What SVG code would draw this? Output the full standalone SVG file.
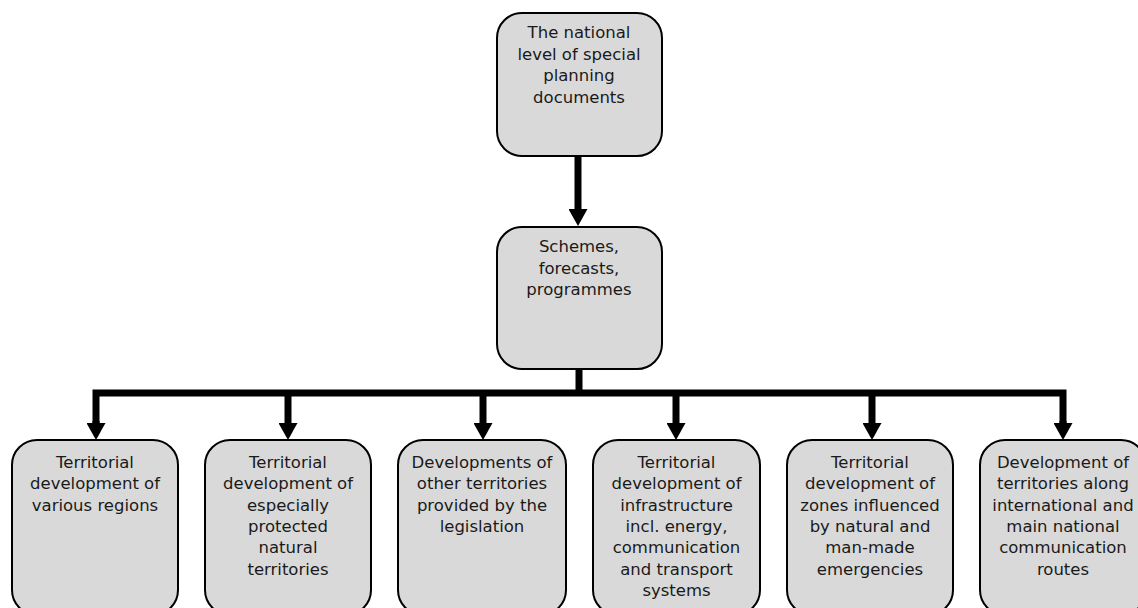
<svg xmlns="http://www.w3.org/2000/svg" width="1138" height="608" viewBox="0 0 1138 608">
<style>
.box{fill:#d9d9d9;stroke:#000;stroke-width:2}
.t{font-family:"DejaVu Sans",Verdana,sans-serif;font-size:16.5px;fill:#1a1a1a;text-anchor:middle}
.c{fill:none;stroke:#000;stroke-width:7;stroke-linejoin:miter}
</style>
<defs>
<marker id="ah" markerUnits="userSpaceOnUse" viewBox="0 0 17 19" refX="0" refY="9.5" markerWidth="17" markerHeight="19" orient="auto">
<path d="M0 0 L17 9.5 L0 19 z" fill="#000"/>
</marker>
</defs>
<g id="connectors">
<path class="c" d="M578 156 V209" marker-end="url(#ah)"/>
<path class="c" d="M579 369 V393"/>
<path class="c" d="M96 423 V393 H1063 V423"/>
<path class="c" d="M96 421 V423" marker-end="url(#ah)"/>
<path class="c" d="M1063 421 V423" marker-end="url(#ah)"/>
<path class="c" d="M288 393 V423" marker-end="url(#ah)"/>
<path class="c" d="M483 393 V423" marker-end="url(#ah)"/>
<path class="c" d="M676 393 V423" marker-end="url(#ah)"/>
<path class="c" d="M872 393 V423" marker-end="url(#ah)"/>
</g>
<g id="n-top">
<rect class="box" x="497" y="13" width="165" height="143" rx="25"/>
<text class="t" x="579" y="38">The national</text>
<text class="t" x="579" y="59.5">level of special</text>
<text class="t" x="579" y="81">planning</text>
<text class="t" x="579" y="102.5">documents</text>
</g>
<g id="n-mid">
<rect class="box" x="497" y="227" width="165" height="142" rx="25"/>
<text class="t" x="579" y="252">Schemes,</text>
<text class="t" x="579" y="273.5">forecasts,</text>
<text class="t" x="579" y="295">programmes</text>
</g>
<g id="n1">
<rect class="box" x="12" y="440" width="166" height="175" rx="25"/>
<text class="t" x="95" y="468">Territorial</text>
<text class="t" x="95" y="489.3">development of</text>
<text class="t" x="95" y="510.6">various regions</text>
</g>
<g id="n2">
<rect class="box" x="205" y="440" width="166" height="175" rx="25"/>
<text class="t" x="288" y="468">Territorial</text>
<text class="t" x="288" y="489.3">development of</text>
<text class="t" x="288" y="510.6">especially</text>
<text class="t" x="288" y="531.9">protected</text>
<text class="t" x="288" y="553.2">natural</text>
<text class="t" x="288" y="574.5">territories</text>
</g>
<g id="n3">
<rect class="box" x="398" y="440" width="168" height="175" rx="25"/>
<text class="t" x="482" y="468">Developments of</text>
<text class="t" x="482" y="489.3">other territories</text>
<text class="t" x="482" y="510.6">provided by the</text>
<text class="t" x="482" y="531.9">legislation</text>
</g>
<g id="n4">
<rect class="box" x="593" y="440" width="167" height="175" rx="25"/>
<text class="t" x="676.5" y="468">Territorial</text>
<text class="t" x="676.5" y="489.3">development of</text>
<text class="t" x="676.5" y="510.6">infrastructure</text>
<text class="t" x="676.5" y="531.9">incl. energy,</text>
<text class="t" x="676.5" y="553.2">communication</text>
<text class="t" x="676.5" y="574.5">and transport</text>
<text class="t" x="676.5" y="595.8">systems</text>
</g>
<g id="n5">
<rect class="box" x="787" y="440" width="166" height="175" rx="25"/>
<text class="t" x="870" y="468">Territorial</text>
<text class="t" x="870" y="489.3">development of</text>
<text class="t" x="870" y="510.6">zones influenced</text>
<text class="t" x="870" y="531.9">by natural and</text>
<text class="t" x="870" y="553.2">man-made</text>
<text class="t" x="870" y="574.5">emergencies</text>
</g>
<g id="n6">
<rect class="box" x="980" y="440" width="166" height="175" rx="25"/>
<text class="t" x="1063" y="468">Development of</text>
<text class="t" x="1063" y="489.3">territories along</text>
<text class="t" x="1063" y="510.6">international and</text>
<text class="t" x="1063" y="531.9">main national</text>
<text class="t" x="1063" y="553.2">communication</text>
<text class="t" x="1063" y="574.5">routes</text>
</g>
</svg>
